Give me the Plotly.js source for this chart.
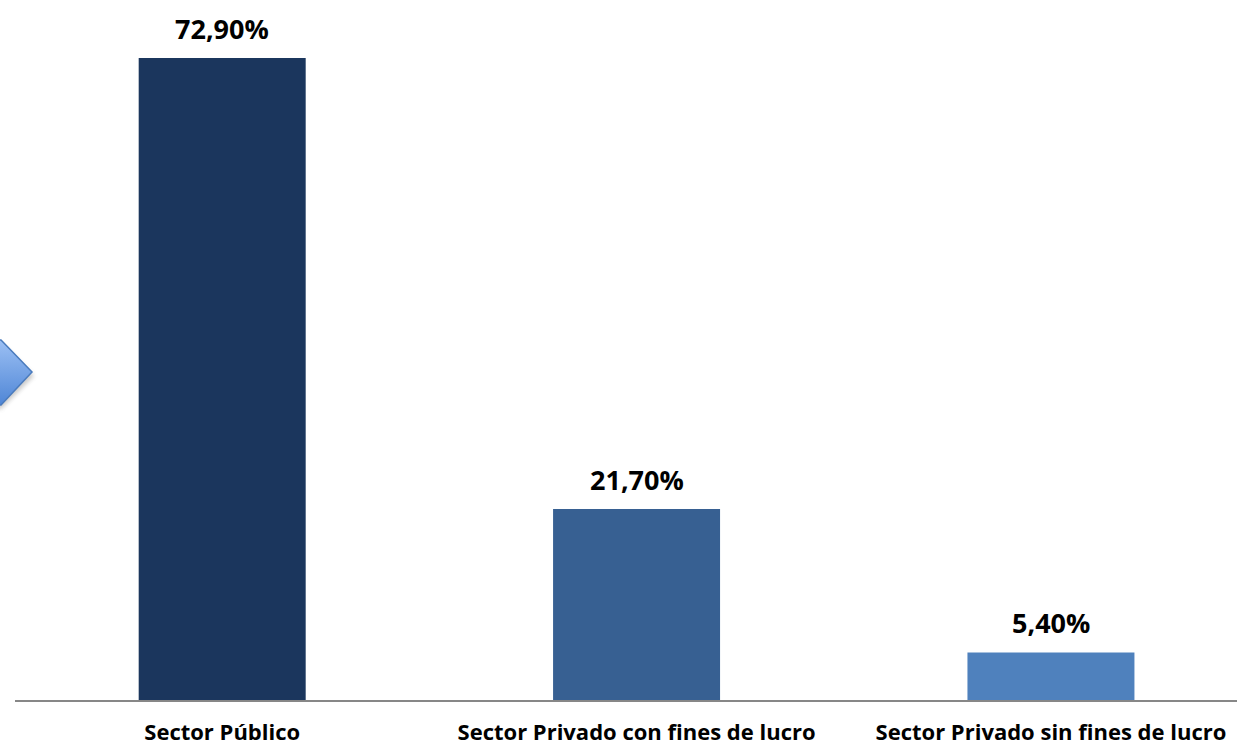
<!DOCTYPE html>
<html>
<head>
<meta charset="utf-8">
<script src="https://cdn.plot.ly/plotly-3.0.1.min.js"></script>
<style>
html,body{margin:0;padding:0;background:#fff;overflow:hidden;}
#wrap{position:relative;width:1237px;height:747px;}
#chart{position:absolute;left:0;top:0;width:1237px;height:747px;}
#arrow{position:absolute;left:0;top:0;pointer-events:none;}
</style>
</head>
<body>
<div id="wrap">
<div id="chart"></div>
<svg id="arrow" width="60" height="747">
  <defs>
    <linearGradient id="ag" x1="0" y1="0" x2="0" y2="1">
      <stop offset="0" stop-color="#9cc0f4"/>
      <stop offset="1" stop-color="#4f86d6"/>
    </linearGradient>
    <filter id="sh" x="-50%" y="-50%" width="200%" height="200%">
      <feGaussianBlur stdDeviation="2"/>
    </filter>
  </defs>
  <polygon points="-80,344 1,344 34,376 1,409 -80,409" fill="#8a8a8a" opacity="0.45" filter="url(#sh)"/>
  <polygon points="-80,340 1,340 32,372 1,405 -80,405" fill="url(#ag)" stroke="#4a7bbd" stroke-width="1.5"/>
</svg>
</div>
<script>
var categories = ["Sector Público", "Sector Privado con fines de lucro", "Sector Privado sin fines de lucro"];
var values = [72.9, 21.7, 5.4];
var valueLabels = ["72,90%", "21,70%", "5,40%"];
var barColors = ["#1b365d", "#376092", "#4f81bd"];

var trace = {
  type: "bar",
  x: categories,
  y: values,
  marker: {color: barColors},
  width: 0.403,
  hoverinfo: "none"
};

var annotations = categories.map(function(c, i){
  return {
    x: c, y: values[i], xref: "x", yref: "y",
    text: "<b>" + valueLabels[i] + "</b>",
    showarrow: false, yanchor: "bottom", yshift: 9,
    font: {family: "'Open Sans', Lato, sans-serif", size: 27, color: "#000"}
  };
});

var layout = {
  width: 1237, height: 747,
  margin: {l: 14.5, r: 0, t: 0, b: 47, pad: 0},
  paper_bgcolor: "#fff", plot_bgcolor: "#fff",
  showlegend: false,
  xaxis: {
    range: [-0.5, 2.449],
    showline: true, linecolor: "#878787", linewidth: 2,
    ticks: "", showgrid: false, zeroline: false,
    tickfont: {family: "'Open Sans', Lato, sans-serif", size: 22, color: "#000", weight: "bold"},
    ticklabelstandoff: 12
  },
  yaxis: {
    range: [0, 79.48], visible: false, showgrid: false, zeroline: false
  },
  annotations: annotations
};

Plotly.newPlot("chart", [trace], layout, {displayModeBar: false, staticPlot: true});
</script>
</body>
</html>
